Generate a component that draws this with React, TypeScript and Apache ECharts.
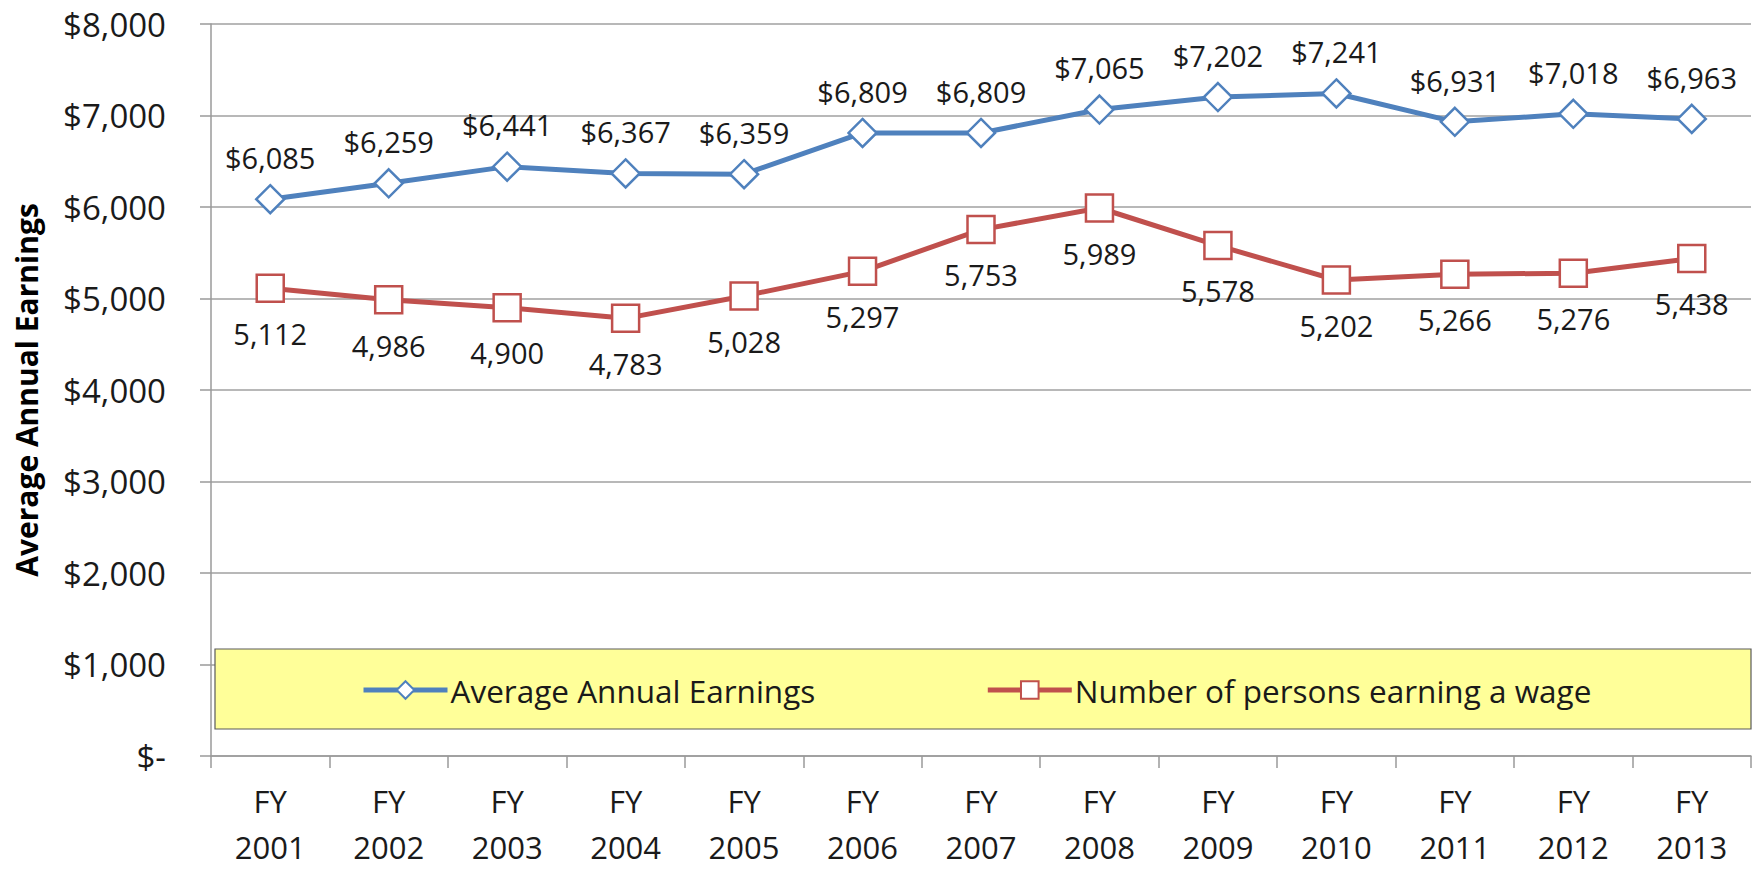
import React, { useEffect, useRef } from "react";
import * as echarts from "echarts";

const categories = ["FY\n2001", "FY\n2002", "FY\n2003", "FY\n2004", "FY\n2005", "FY\n2006", "FY\n2007", "FY\n2008", "FY\n2009", "FY\n2010", "FY\n2011", "FY\n2012", "FY\n2013"];
const earnings = [6085, 6259, 6441, 6367, 6359, 6809, 6809, 7065, 7202, 7241, 6931, 7018, 6963];
const persons = [5112, 4986, 4900, 4783, 5028, 5297, 5753, 5989, 5578, 5202, 5266, 5276, 5438];
const seriesNames = ["Average Annual Earnings", "Number of persons earning a wage"];
const yAxisTitle = "Average Annual Earnings";

const FONT = "'Open Sans', 'Noto Sans', sans-serif";
const fmt = (v: number) => v.toLocaleString("en-US");

export default function App() {
  const ref = useRef<HTMLDivElement>(null);
  useEffect(() => {
    if (!ref.current) return;
    const chart = echarts.init(ref.current, null, { renderer: "svg" });
    chart.setOption({
      animation: false,
      backgroundColor: "#ffffff",
      textStyle: { fontFamily: FONT },
      grid: { left: 211, right: 3, top: 24, bottom: 110, containLabel: false },
      xAxis: {
        type: "category",
        data: categories,
        boundaryGap: true,
        axisLine: { show: true, lineStyle: { color: "#9a9a9a", width: 1.5 } },
        axisTick: { show: true, length: 12, lineStyle: { color: "#9a9a9a", width: 1.5 } },
        axisLabel: { color: "#1a1a1a", fontSize: 31, lineHeight: 46, margin: 22, fontFamily: FONT },
        splitLine: { show: false },
      },
      yAxis: {
        type: "value",
        min: 0,
        max: 8000,
        interval: 1000,
        name: yAxisTitle,
        nameLocation: "middle",
        nameGap: 170,
        nameTextStyle: { fontSize: 30, fontWeight: "bold", color: "#000", fontFamily: FONT },
        axisLine: { show: true, lineStyle: { color: "#9a9a9a", width: 1.5 } },
        axisTick: { show: true, length: 11, lineStyle: { color: "#9a9a9a", width: 1.5 } },
        axisLabel: {
          color: "#1a1a1a",
          fontSize: 33,
          margin: 45,
          fontFamily: FONT,
          formatter: (v: number) => (v === 0 ? "$-" : "$" + fmt(v)),
        },
        splitLine: { show: true, lineStyle: { color: "#a0a0a0", width: 1.5 } },
      },
      legend: {
        show: true,
        left: 356,
        top: 669,
        itemWidth: 84,
        itemHeight: 22,
        itemGap: 170,
        z: 10,
        lineStyle: { width: 5 },
        textStyle: { fontSize: 31.5, color: "#1a1a1a", fontFamily: FONT, padding: [0, 0, 0, -2] },
        data: seriesNames,
      },
      graphic: [
        {
          type: "rect",
          z: 5,
          shape: { x: 215, y: 649, width: 1536, height: 80 },
          style: { fill: "#FFFF99", stroke: "#5a5a5a", lineWidth: 1.2 },
        },
      ],
      series: [
        {
          name: seriesNames[0],
          type: "line",
          data: earnings,
          symbol: "diamond",
          symbolSize: 28,
          lineStyle: { color: "#4F81BD", width: 5 },
          itemStyle: { color: "#ffffff", borderColor: "#4F81BD", borderWidth: 2.5 },
          label: {
            show: true,
            position: "top",
            distance: 12,
            fontSize: 29,
            color: "#1a1a1a",
            fontFamily: FONT,
            formatter: (p: any) => "$" + fmt(p.value),
          },
          z: 3,
        },
        {
          name: seriesNames[1],
          type: "line",
          data: persons,
          symbol: "rect",
          symbolSize: 27,
          lineStyle: { color: "#C0504D", width: 5 },
          itemStyle: { color: "#ffffff", borderColor: "#C0504D", borderWidth: 2.5 },
          label: {
            show: true,
            position: "bottom",
            distance: 16,
            fontSize: 29,
            color: "#1a1a1a",
            fontFamily: FONT,
            formatter: (p: any) => fmt(p.value),
          },
          z: 3,
        },
      ],
    });
    return () => chart.dispose();
  }, []);
  return (
    <div
      ref={ref}
      style={{ position: "fixed", left: 0, top: 0, width: 1754, height: 870 }}
    />
  );
}
